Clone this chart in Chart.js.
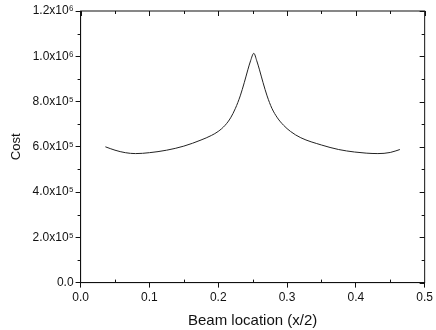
<!DOCTYPE html>
<html>
<head>
<meta charset="utf-8">
<script src="https://cdn.jsdelivr.net/npm/chart.js@4/dist/chart.umd.min.js"></script>
<style>
  html, body { margin: 0; padding: 0; background: #fff; }
  #wrap { width: 436px; height: 330px; }
</style>
</head>
<body>
<div id="wrap"><canvas id="myData"></canvas></div>
<script>
// beam location (x/2) and cost
const location_ = [0.036, 0.05, 0.065, 0.08, 0.10, 0.125, 0.15, 0.175, 0.19, 0.20, 0.21, 0.218, 0.225, 0.232, 0.238, 0.243, 0.247, 0.2517,
                   0.256, 0.260, 0.265, 0.271, 0.278, 0.286, 0.295, 0.305, 0.32, 0.35, 0.375, 0.398, 0.415, 0.432, 0.45, 0.464];
const cost = [600e3, 585e3, 574e3, 570e3, 574e3, 585e3, 603e3, 630e3, 650e3, 668e3, 695e3, 728e3, 770e3, 825e3, 885e3, 940e3, 980e3, 1013e3,
              980e3, 940e3, 885e3, 825e3, 770e3, 728e3, 695e3, 668e3, 640e3, 608e3, 588e3, 577e3, 572e3, 570e3, 575e3, 588e3];
const xTicks = [0.0, 0.1, 0.2, 0.3, 0.4, 0.5];
const yTickLabels = ["0.0", "2.0x10⁵", "4.0x10⁵", "6.0x10⁵", "8.0x10⁵", "1.0x10⁶", "1.2x10⁶"];

const points = location_.map((x, i) => ({ x: x, y: cost[i] }));
const font = { family: "'Liberation Sans', Arial, sans-serif", size: 12 };

// box around the plot plus small minor ticks
const frame = {
    id: 'frame',
    afterDraw(chart) {
        const c = chart.ctx, a = chart.chartArea;
        const xs = chart.scales.x, ys = chart.scales.y;
        c.save();
        c.strokeStyle = '#111';
        c.lineWidth = 1;
        c.strokeRect(a.left, a.top, a.right - a.left, a.bottom - a.top);
        c.beginPath();
        for (let v = 0.05; v < 0.5; v += 0.1) {
            const px = Math.round(xs.getPixelForValue(v)) + 0.5;
            c.moveTo(px, a.bottom); c.lineTo(px, a.bottom - 3);
            c.moveTo(px, a.top); c.lineTo(px, a.top + 3);
        }
        for (let v = 1e5; v < 1.2e6; v += 2e5) {
            const py = Math.round(ys.getPixelForValue(v)) + 0.5;
            c.moveTo(a.left, py); c.lineTo(a.left - 3, py);
            c.moveTo(a.right, py); c.lineTo(a.right - 3, py);
        }
        xTicks.forEach(v => {
            const px = Math.round(xs.getPixelForValue(v)) + 0.5;
            c.moveTo(px, a.top); c.lineTo(px, a.top + 5);
        });
        for (let v = 0; v <= 1.2e6; v += 2e5) {
            const py = Math.round(ys.getPixelForValue(v)) + 0.5;
            c.moveTo(a.right, py); c.lineTo(a.right - 5, py);
        }
        c.stroke();
        c.restore();
    }
};

new Chart(document.getElementById('myData'), {
    type: 'scatter',
    data: {
        datasets: [{
            data: points,
            showLine: true,
            borderColor: '#222',
            borderWidth: 1,
            pointRadius: 0,
            cubicInterpolationMode: 'monotone'
        }]
    },
    options: {
        responsive: true,
        maintainAspectRatio: false,
        animation: false,
        layout: { padding: { top: 11, right: 9, left: 5, bottom: 0 } },
        plugins: { legend: { display: false }, tooltip: { enabled: false } },
        scales: {
            x: {
                type: 'linear',
                min: 0, max: 0.5,
                afterBuildTicks: s => { s.ticks = xTicks.map(v => ({ value: v })); },
                ticks: { color: '#111', font: font, padding: 3, callback: v => v.toFixed(1) },
                grid: { display: true, drawOnChartArea: false, tickLength: 5, color: '#111' },
                border: { color: '#111' },
                title: { display: true, text: 'Beam location (x/2)', color: '#111', font: { family: font.family, size: 15 }, padding: { top: 4, bottom: 0 } }
            },
            y: {
                min: 0, max: 1.2e6,
                ticks: { stepSize: 2e5, color: '#111', font: font, padding: 2, callback: (v, i) => yTickLabels[i] },
                grid: { display: true, drawOnChartArea: false, tickLength: 5, color: '#111' },
                border: { color: '#111' },
                title: { display: true, text: 'Cost', color: '#111', font: { family: font.family, size: 13 }, padding: { bottom: 6 } }
            }
        }
    },
    plugins: [frame]
});
</script>
</body>
</html>
